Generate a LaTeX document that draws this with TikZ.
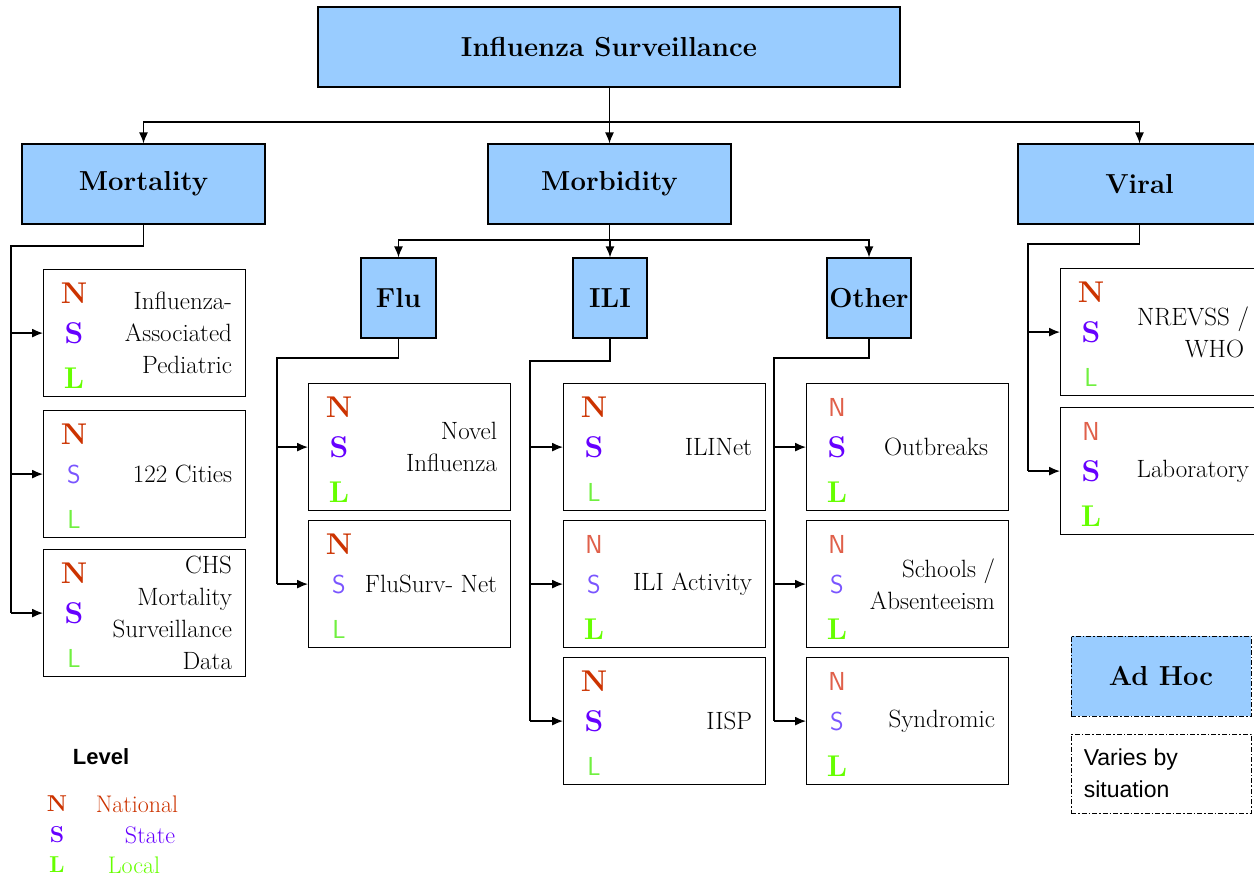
\documentclass[tikz,border=0pt]{standalone}
\usepackage{fontspec}
\newfontfamily\arial{Liberation Sans}
\usetikzlibrary{arrows.meta,calc}
\definecolor{boxblue}{HTML}{99CCFF}
\definecolor{Nc}{HTML}{CC3300}
\definecolor{Sc}{HTML}{6600FF}
\definecolor{Lc}{HTML}{66FF00}
\definecolor{Nt}{HTML}{E0604A}
\definecolor{St}{HTML}{7A55FF}
\definecolor{Lt}{HTML}{70F040}
\tikzset{
  bluebox/.style={draw, fill=boxblue, line width=1.2pt, inner sep=0pt, font=\bfseries\fontsize{27.5}{30}\selectfont},
  subbox/.style={draw, fill=white, line width=1.2pt, inner sep=0pt, minimum width=202pt, minimum height=127pt},
  conn/.style={line width=1.3pt},
  arr/.style={conn, -{Latex[length=11pt,width=9pt]}},
  lbl/.style={anchor=east, align=right, inner sep=0pt, font=\fontsize{25}{32}\selectfont},
  Nb/.style={text=Nc, inner sep=0pt, font=\bfseries\fontsize{30}{30}\selectfont},
  Sb/.style={text=Sc, inner sep=0pt, font=\bfseries\fontsize{30}{30}\selectfont},
  Lb/.style={text=Lc, inner sep=0pt, font=\bfseries\fontsize{30}{30}\selectfont},
  Nl/.style={text=Nt, inner sep=0pt, font=\sffamily\fontsize{26}{26}\selectfont},
  Sl/.style={text=St, inner sep=0pt, font=\sffamily\fontsize{26}{26}\selectfont},
  Ll/.style={text=Lt, inner sep=0pt, font=\sffamily\fontsize{26}{26}\selectfont},
  dashdot/.style={draw, line width=0.9pt, dash pattern=on 5pt off 2pt on 1.5pt off 2pt},
}
\newcommand\mkbox[7]{%
  \node[subbox, anchor=north west] (#1) at (#2,-#3) {};
  \node[#4] at ($(#1.north west)+(31,-24)$) {N};
  \node[#5] at ($(#1.west)+(31,0)$) {S};
  \node[#6] at ($(#1.south west)+(31,19)$) {L};
  \node[lbl] at ($(#1.east)+(-14,0)$) {#7};
}
\begin{document}
\begin{tikzpicture}[x=1pt,y=1pt]
\useasboundingbox (0,0) rectangle (1254,-879);
\clip (0,0) rectangle (1254,-879);
% top level
\node[bluebox, minimum width=582pt, minimum height=80pt] (title) at (609,-47) {Influenza Surveillance};
\node[bluebox, minimum width=243pt, minimum height=80pt] (mort) at (143.5,-184) {Mortality};
\node[bluebox, minimum width=243pt, minimum height=80pt] (morb) at (609.5,-184) {Morbidity};
\node[bluebox, minimum width=243pt, minimum height=80pt] (viral) at (1139.5,-184) {Viral};
\node[bluebox, minimum width=75pt, minimum height=80pt] (flu) at (398.5,-298) {Flu};
\node[bluebox, minimum width=74pt, minimum height=80pt] (ili) at (610,-298) {ILI};
\node[bluebox, minimum width=84pt, minimum height=80pt] (other) at (869,-298) {Other};
% sub boxes
\mkbox{m1}{43}{269}{Nb}{Sb}{Lb}{Influenza-\\Associated\\Pediatric}
\mkbox{m2}{43}{410}{Nb}{Sl}{Ll}{122 Cities}
\mkbox{m3}{43}{549}{Nb}{Sb}{Ll}{CHS\\Mortality\\Surveillance\\Data}
\mkbox{f1}{308}{383}{Nb}{Sb}{Lb}{Novel\\Influenza}
\mkbox{f2}{308}{520}{Nb}{Sl}{Ll}{FluSurv- Net}
\mkbox{i1}{563}{383}{Nb}{Sb}{Ll}{ILINet}
\mkbox{i2}{563}{520}{Nl}{Sl}{Lb}{ILI Activity}
\mkbox{i3}{563}{657}{Nb}{Sb}{Ll}{IISP}
\mkbox{o1}{806}{383}{Nl}{Sb}{Lb}{Outbreaks\hspace*{7pt}}
\mkbox{o2}{806}{520}{Nl}{Sl}{Lb}{Schools /\\Absenteeism}
\mkbox{o3}{806}{657}{Nl}{Sl}{Lb}{Syndromic}
\mkbox{v1}{1060}{268}{Nb}{Sb}{Ll}{NREVSS /\\WHO\hspace*{5pt}}
\mkbox{v2}{1060}{407}{Nl}{Sb}{Lb}{Laboratory}
% connectors top
\coordinate (j0) at (609.5,-122);
\draw[conn] (title.south -| j0) -- (j0);
\draw[arr] (j0) -| (mort.north);
\draw[arr] (j0) -- (morb.north);
\draw[arr] (j0) -| (viral.north);
% mortality
\coordinate (mv) at (11,-246);
\draw[conn] (mort.south) |- (mv) -- (m3.west -| mv);
\draw[arr] (m1.west -| mv) -- (m1.west);
\draw[arr] (m2.west -| mv) -- (m2.west);
\draw[arr] (m3.west -| mv) -- (m3.west);
% morbidity
\coordinate (j1) at (609.5,-240);
\draw[conn] (morb.south) -- (j1);
\draw[arr] (j1) -| (flu.north);
\draw[arr] (j1) -| (ili.north);
\draw[arr] (j1) -| (other.north);
% flu
\coordinate (fv) at (277,-358);
\draw[conn] (flu.south) |- (fv) -- (f2.west -| fv);
\draw[arr] (f1.west -| fv) -- (f1.west);
\draw[arr] (f2.west -| fv) -- (f2.west);
% ili
\coordinate (iv) at (530,-361);
\draw[conn] (ili.south) |- (iv) -- (i3.west -| iv);
\draw[arr] (i1.west -| iv) -- (i1.west);
\draw[arr] (i2.west -| iv) -- (i2.west);
\draw[arr] (i3.west -| iv) -- (i3.west);
% other
\coordinate (ov) at (774,-358);
\draw[conn] (other.south) |- (ov) -- (o3.west -| ov);
\draw[arr] (o1.west -| ov) -- (o1.west);
\draw[arr] (o2.west -| ov) -- (o2.west);
\draw[arr] (o3.west -| ov) -- (o3.west);
% viral
\coordinate (vv) at (1028,-244);
\draw[conn] (viral.south) |- (vv) -- (v2.west -| vv);
\draw[arr] (v1.west -| vv) -- (v1.west);
\draw[arr] (v2.west -| vv) -- (v2.west);
% ad hoc
\node[dashdot, fill=boxblue, minimum width=180pt, minimum height=80pt, inner sep=0pt, font=\bfseries\fontsize{27.5}{30}\selectfont] (adhoc) at (1161,-676) {Ad Hoc};
\node[dashdot, minimum width=180pt, minimum height=79pt, inner sep=0pt] (varies) at (1161,-773.5) {};
\node[anchor=west, align=left, inner sep=0pt, font=\arial\fontsize{23}{32}\selectfont] (variest) at ($(varies.west)+(13,0)$) {Varies by\\situation};
% legend
\node[inner sep=0pt, font=\arial\bfseries\fontsize{22}{22}\selectfont] (level) at (101,-757) {Level};
\node[Nb, font=\bfseries\fontsize{23}{23}\selectfont] (lN) at (57,-804) {N};
\node[Sb, font=\bfseries\fontsize{23}{23}\selectfont] (lS) at (57,-835) {S};
\node[Lb, font=\bfseries\fontsize{23}{23}\selectfont] (lL) at (57,-865) {L};
\node[text=Nc, inner sep=0pt, font=\fontsize{24}{24}\selectfont] (tN) at (137,-804) {National};
\node[text=Sc, inner sep=0pt, font=\fontsize{24}{24}\selectfont] (tS) at (150,-835) {State};
\node[text=Lc, inner sep=0pt, font=\fontsize{24}{24}\selectfont] (tL) at (134,-865) {Local};
\end{tikzpicture}
\end{document}
